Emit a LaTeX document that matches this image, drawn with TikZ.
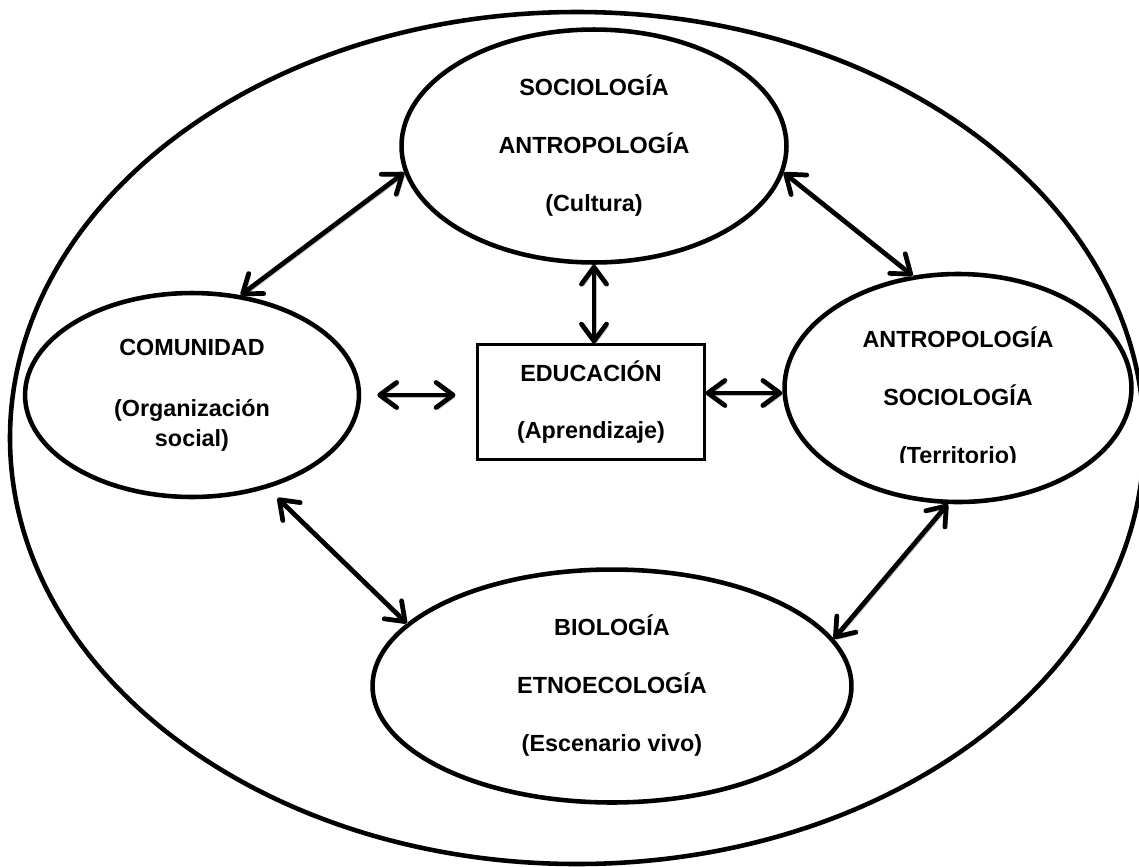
\documentclass[tikz,border=0pt]{standalone}
\usepackage{fontspec}
\setmainfont{Liberation Sans}
\usepackage{tikz}
\usetikzlibrary{arrows.meta, shapes.geometric, calc, positioning}
\tikzset{
    field/.style={ellipse, draw=black, line width=2.6pt, fill=white, align=center, inner sep=0pt, font=\fontsize{13.3}{17}\selectfont\bfseries},
    core/.style={rectangle, draw=black, line width=1.2pt, fill=white, align=center, inner sep=0pt, font=\fontsize{13.3}{17}\selectfont\bfseries},
    txt/.style={align=center, inner sep=0pt, font=\fontsize{13.3}{17}\selectfont\bfseries},
    arrow/.style={{Straight Barb[length=3.4mm,width=5mm,round]}-{Straight Barb[length=3.4mm,width=5mm,round]}, line width=2.7pt, preaction={draw=black!25, transform canvas={xshift=1.2pt,yshift=-1.2pt}}}
}

\begin{document}
\begin{tikzpicture}[x=0.02cm, y=-0.02cm]
    \useasboundingbox (0,0) rectangle (1139,866);
    \clip (0,0) rectangle (1139,866);

    % Outer frame
    \draw[line width=2.6pt] (577,438) ellipse [x radius=567, y radius=426];

    % Disciplines
    \node[field, minimum width=7.7cm, minimum height=4.66cm] (cultura) at (594,146) {SOCIOLOGÍA\\[16pt]ANTROPOLOGÍA\\[16pt](Cultura)};
    \node[field, minimum width=6.68cm, minimum height=4.08cm] (comunidad) at (192,395) {COMUNIDAD\\[18pt](Organización\\social)};
    \node[field, minimum width=6.94cm, minimum height=4.38cm] (territorio) at (958,388) {\rule{0pt}{23pt}ANTROPOLOGÍA\\[16pt]SOCIOLOGÍA\\[16pt]\phantom{(Territorio)}};
    \node[field, minimum width=9.58cm, minimum height=4.66cm] (vivo) at (612,686) {BIOLOGÍA\\[16pt]ETNOECOLOGÍA\\[16pt](Escenario vivo)};

    % Centre
    \node[core, minimum width=4.54cm, minimum height=2.3cm] (educacion) at (591,402) {EDUCACIÓN\\[15pt](Aprendizaje)};

    % Cut-off last line
    \begin{scope}
        \clip (800,300) rectangle (1120,462);
        \node[txt] (terr) at (958,457) {(Territorio)};
    \end{scope}

    % Relations
    \draw[arrow] (cultura.188) -- (comunidad.64);
    \draw[arrow] (cultura.-8) -- (territorio.112);
    \draw[arrow] (cultura.south) -- (cultura.south |- educacion.north);
    \draw[arrow, shorten <=0.32cm, shorten >=0.42cm] (comunidad.east) -- (comunidad.east -| educacion.west);
    \draw[arrow] ([yshift=0.18cm]educacion.east) -- ([yshift=0.18cm]educacion.east -| territorio.west);
    \draw[arrow, shorten <=0.28cm] (comunidad.-51) -- (vivo.163);
    \draw[arrow] (territorio.265) -- (vivo.12);
\end{tikzpicture}
\end{document}
